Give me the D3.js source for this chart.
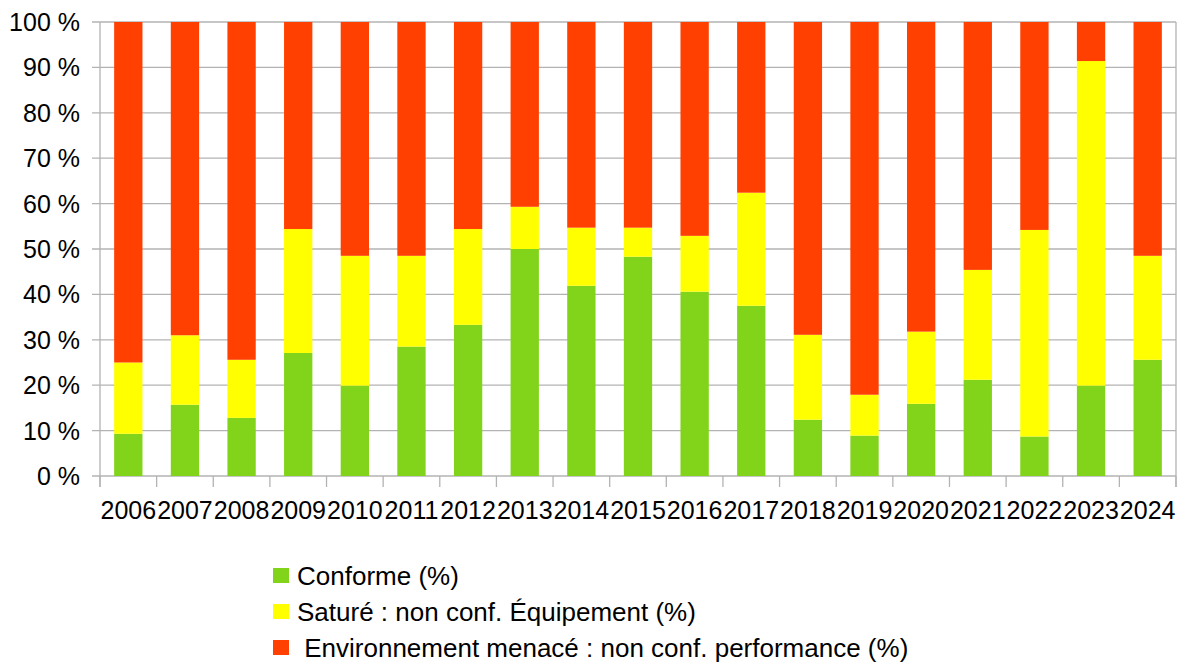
<!DOCTYPE html>
<html><head><meta charset="utf-8">
<script src="https://cdn.jsdelivr.net/npm/d3@7/dist/d3.min.js"></script>
<style>
body{margin:0;background:#fff;}
svg{font-family:"Liberation Sans",Arial,sans-serif;}
</style></head>
<body>
<svg id="chart" width="1183" height="664"></svg>
<script>
const years = ["2006","2007","2008","2009","2010","2011","2012","2013","2014","2015","2016","2017","2018","2019","2020","2021","2022","2023","2024"];
const conforme = [9.3,15.7,12.8,27.1,19.9,28.5,33.3,50.0,41.9,48.3,40.6,37.5,12.4,8.9,15.9,21.2,8.7,19.9,25.6];
const sature   = [15.7,15.3,12.8,27.3,28.6,20.0,21.1,9.3,12.8,6.4,12.3,24.9,18.7,9.0,15.9,24.2,45.5,71.5,22.9];
const menace   = years.map((y,i)=>+(100-conforme[i]-sature[i]).toFixed(1));
const seriesNames = ["Conforme (%)","Saturé : non conf. Équipement (%)"," Environnement menacé : non conf. performance (%)"];
const seriesColors = ["#81d41a","#ffff00","#ff4000"];
const yTicks = [0,10,20,30,40,50,60,70,80,90,100];

(function(){
const svg = d3.select("#chart");
const pL=100, pR=1176, pT=22, pB=476;
const x = d3.scaleBand().domain(years).range([pL,pR]).paddingInner(0.5).paddingOuter(0.25);
const y = d3.scaleLinear().domain([0,100]).range([pB,pT]);
const grid="#b3b3b3";

svg.append("g").selectAll("line").data(yTicks).join("line")
  .attr("x1",pL-8).attr("x2",pR).attr("y1",d=>y(d)).attr("y2",d=>y(d))
  .attr("stroke",grid).attr("stroke-width",1.3);

const table = years.map((yr,i)=>({year:yr,c:conforme[i],s:sature[i],m:menace[i]}));
const stack = d3.stack().keys(["c","s","m"])(table);
svg.append("g").selectAll("g").data(stack).join("g")
  .attr("fill",(d,i)=>seriesColors[i])
  .selectAll("rect").data(d=>d).join("rect")
  .attr("x",d=>x(d.data.year)).attr("width",x.bandwidth())
  .attr("y",d=>y(Math.min(d[1],100))).attr("height",d=>y(d[0])-y(Math.min(d[1],100)));

svg.append("line").attr("x1",pL).attr("x2",pL).attr("y1",pT).attr("y2",pB+11).attr("stroke",grid).attr("stroke-width",1.3);
svg.append("line").attr("x1",pR).attr("x2",pR).attr("y1",pT).attr("y2",pB+11).attr("stroke",grid).attr("stroke-width",1.3);
const bounds = d3.range(years.length+1).map(i=>pL+i*(pR-pL)/years.length);
svg.append("g").selectAll("line").data(bounds).join("line")
  .attr("x1",d=>d).attr("x2",d=>d).attr("y1",pB).attr("y2",pB+11)
  .attr("stroke",grid).attr("stroke-width",1.3);

svg.append("g").selectAll("text").data(yTicks).join("text")
  .attr("x",80).attr("y",d=>y(d)+9).attr("text-anchor","end")
  .attr("font-size",25).attr("fill","#000").text(d=>d+" %");

svg.append("g").selectAll("text").data(years).join("text")
  .attr("x",d=>x(d)+x.bandwidth()/2).attr("y",519).attr("text-anchor","middle")
  .attr("font-size",25).attr("fill","#000").text(d=>d);

const lg = svg.append("g");
seriesNames.forEach((n,i)=>{
  const base = 585 + i*36;
  lg.append("rect").attr("x",273).attr("y",base-17).attr("width",16).attr("height",15).attr("fill",seriesColors[i]);
  lg.append("text").attr("x",297).attr("y",base).attr("font-size",26).style("white-space","pre").attr("fill","#000").text(n);
});
})();
</script>
</body></html>
